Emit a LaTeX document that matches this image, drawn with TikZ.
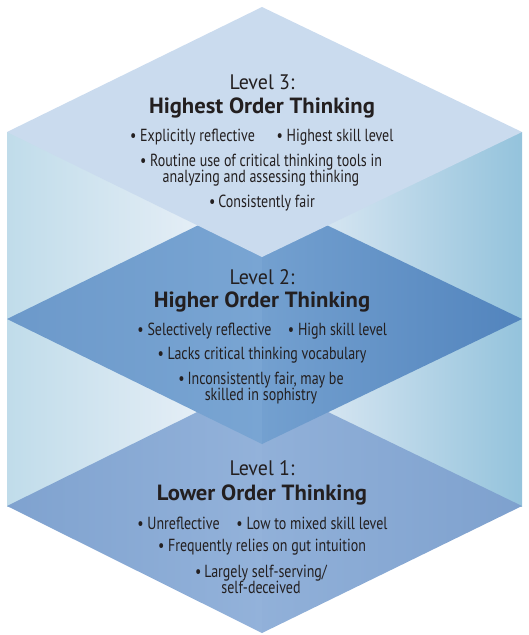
\documentclass[tikz,border=0pt]{standalone}
\usepackage{fontspec}
\setmainfont{PT Sans}
\newfontfamily\condfont[FakeStretch=0.8]{PT Sans}
\newfontfamily\titlefont[FakeStretch=0.95]{PT Sans}
\newfontfamily\boldtitlefont[FakeStretch=1.03]{PT Sans Bold}
\definecolor{txt}{HTML}{231F20}
\definecolor{topc}{HTML}{CADBEE}
\definecolor{midL}{HTML}{6C99CA}
\definecolor{midC}{HTML}{79A5D3}
\definecolor{midR}{HTML}{5284BD}
\definecolor{botL}{HTML}{7FA2CF}
\definecolor{botC}{HTML}{93B2DA}
\definecolor{botR}{HTML}{7EA1CE}
\definecolor{sideLo}{HTML}{C0DCEA}
\definecolor{sideLi}{HTML}{F1F4FA}
\definecolor{sideRi}{HTML}{EAF0F8}
\definecolor{sideRo}{HTML}{94C3DC}
\tikzset{
  lvl/.style={text=txt, font=\titlefont\fontsize{21}{23}\selectfont, inner sep=0pt},
  ttl/.style={text=txt, font=\boldtitlefont\fontsize{22}{24}\selectfont, inner sep=0pt},
  itm/.style={text=txt, font=\condfont\fontsize{17.5}{18}\selectfont, inner sep=0pt, align=center},
}
\begin{document}
\begin{tikzpicture}[x=1pt,y=-1pt]
\useasboundingbox (0,0) rectangle (528,635);
% side panels
\shade[left color=sideLo, right color=sideLi] (7,132) -- (262,132) -- (262,506) -- (7,506) -- cycle;
\shade[left color=sideRi, right color=sideRo] (262,132) -- (522,132) -- (522,506) -- (262,506) -- cycle;
% bottom rhombus
\shade[left color=botL, right color=botC] (262,380) -- (262,633) -- (7,506) -- cycle;
\shade[left color=botC!90!botR, right color=botR] (262,380) -- (522,506) -- (262,633) -- cycle;
% middle rhombus
\shade[left color=midL, right color=midC] (262,194) -- (262,444) -- (7,319) -- cycle;
\shade[left color=midC!85!midR, right color=midR] (262,194) -- (522,319) -- (262,444) -- cycle;
% top rhombus
\fill[topc] (262,7) -- (522,132) -- (262,257) -- (7,132) -- cycle;
% level 3
\node[lvl] (l3) at (262,82) {Level 3:};
\node[ttl] (t3) at (262,108) {Highest Order Thinking};
\node[itm] (a3) at (192.5,137) {\textbullet\ Explicitly reflective};
\node[itm] (b3) at (335,137) {\textbullet\ Highest skill level};
\node[itm] (c3) at (261,170) {\textbullet\ Routine use of critical thinking tools in\\[-2pt]analyzing and assessing thinking};
\node[itm] (d3) at (262,203) {\textbullet\,Consistently fair};
% level 2
\node[lvl] (l2) at (262,277) {Level 2:};
\node[ttl] (t2) at (262,302) {Higher Order Thinking};
\node[itm] (a2) at (204.5,331) {\textbullet\ Selectively reflective};
\node[itm] (b2) at (337.5,331) {\textbullet\ High skill level};
\node[itm] (c2) at (262,355) {\textbullet\ Lacks critical thinking vocabulary};
\node[itm] (d2) at (261,388) {\textbullet\,Inconsistently fair, may be\\[-2pt]skilled in sophistry};
% level 1
\node[lvl] (l1) at (262,468) {Level 1:};
\node[ttl] (t1) at (262,495) {Lower Order Thinking};
\node[itm] (a1) at (178.5,523) {\textbullet\ Unreflective};
\node[itm] (b1) at (312,523) {\textbullet\ Low to mixed skill level};
\node[itm] (c1) at (262,547) {\textbullet\ Frequently relies on gut intuition};
\node[itm] (d1) at (261,579.5) {\textbullet\,Largely self-serving/\\[-2pt]self-deceived};
\end{tikzpicture}
\end{document}
